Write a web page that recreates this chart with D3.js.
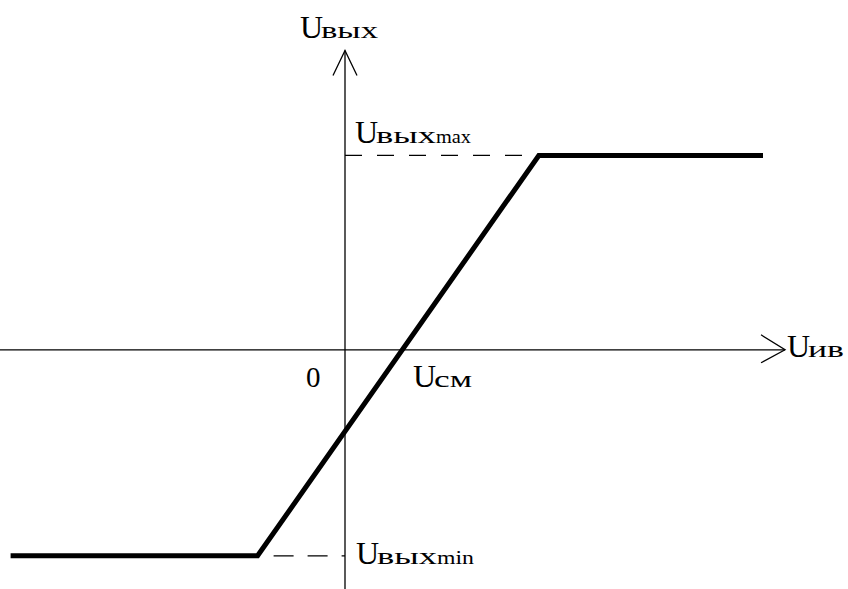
<!DOCTYPE html>
<html>
<head>
<meta charset="utf-8">
<script src="https://cdn.jsdelivr.net/npm/d3@7"></script>
<style>
  body { margin: 0; background: #fff; }
  svg { display: block; }
  text { font-family: "Liberation Serif", "Times New Roman", serif; fill: #000; }
</style>
</head>
<body>
<svg width="848" height="589"></svg>
<script>
// transfer characteristic (input voltage -> output voltage), arbitrary units
var curveX = [-8.8, -2.3, 5.1, 11.0];
var curveY = [-5.3, -5.3, 5.0, 5.0];
var uMax = 5.0, uMin = -5.3, uCm = 1.5;
var xAxisEnd = 11.58, yAxisEnd = 7.7;

var svg = d3.select('svg');

var scaleX = d3.scaleLinear().domain([-9, 13]).range([3, 839]);
var scaleY = d3.scaleLinear().domain([-6, 9]).range([583, 0]);

var x0 = scaleX(0), y0 = scaleY(0);

// axes
svg.append('line')
    .attr('x1', 0).attr('y1', y0)
    .attr('x2', scaleX(xAxisEnd)).attr('y2', y0)
    .attr('stroke', '#000').attr('stroke-width', 1.3);
svg.append('line')
    .attr('x1', x0).attr('y1', 589)
    .attr('x2', x0).attr('y2', scaleY(yAxisEnd))
    .attr('stroke', '#000').attr('stroke-width', 1.3);

// open arrowheads
var ax = scaleX(xAxisEnd), ay = scaleY(yAxisEnd);
svg.append('path')
    .attr('d', 'M' + (ax - 24) + ',' + (y0 - 15) + 'L' + ax + ',' + y0 + 'L' + (ax - 24) + ',' + (y0 + 13))
    .attr('fill', 'none').attr('stroke', '#000').attr('stroke-width', 1.3);
svg.append('path')
    .attr('d', 'M' + (x0 - 12) + ',' + (ay + 25) + 'L' + x0 + ',' + ay + 'L' + (x0 + 12) + ',' + (ay + 25))
    .attr('fill', 'none').attr('stroke', '#000').attr('stroke-width', 1.3);

// dashed guides
svg.append('line')
    .attr('x1', x0).attr('y1', scaleY(uMax))
    .attr('x2', scaleX(curveX[2])).attr('y2', scaleY(uMax))
    .attr('stroke', '#000').attr('stroke-width', 1.3)
    .attr('stroke-dasharray', '17,15');
svg.append('line')
    .attr('x1', scaleX(curveX[1])).attr('y1', scaleY(uMin))
    .attr('x2', x0).attr('y2', scaleY(uMin))
    .attr('stroke', '#000').attr('stroke-width', 1.3)
    .attr('stroke-dasharray', '20,14')
    .attr('stroke-dashoffset', 18);

// characteristic
var line = d3.line()
    .x(function(d){ return scaleX(d[0]); })
    .y(function(d){ return scaleY(d[1]); });

svg.append('path')
    .datum(d3.zip(curveX, curveY))
    .attr('d', line)
    .attr('fill', 'none')
    .attr('stroke', '#000')
    .attr('stroke-width', 5)
    .attr('stroke-linejoin', 'miter');

// labels: big U, wide Cyrillic index, optional small latin suffix
function part(x, y, size, str, len) {
    var t = svg.append('text')
        .attr('x', x).attr('y', y)
        .attr('font-size', size)
        .text(str);
    if (len) t.attr('textLength', len).attr('lengthAdjust', 'spacingAndGlyphs');
}

function label(x, y, sub, subLen, suffix, sufLen) {
    part(x, y, 32, 'U');
    part(x + 21, y, 24, sub, subLen);
    if (suffix) part(x + 21 + subLen, y, 18, suffix, sufLen);
}

label(300, 38, 'вых', 57);
label(355, 143, 'вых', 60, 'max', 35);
label(356, 564, 'вых', 60, 'min', 37);
label(787, 357, 'ив', 36);
label(413, 387, 'см', 38);

svg.append('text')
    .attr('x', 306).attr('y', 387)
    .attr('font-size', 29)
    .text('0');
</script>
</body>
</html>
